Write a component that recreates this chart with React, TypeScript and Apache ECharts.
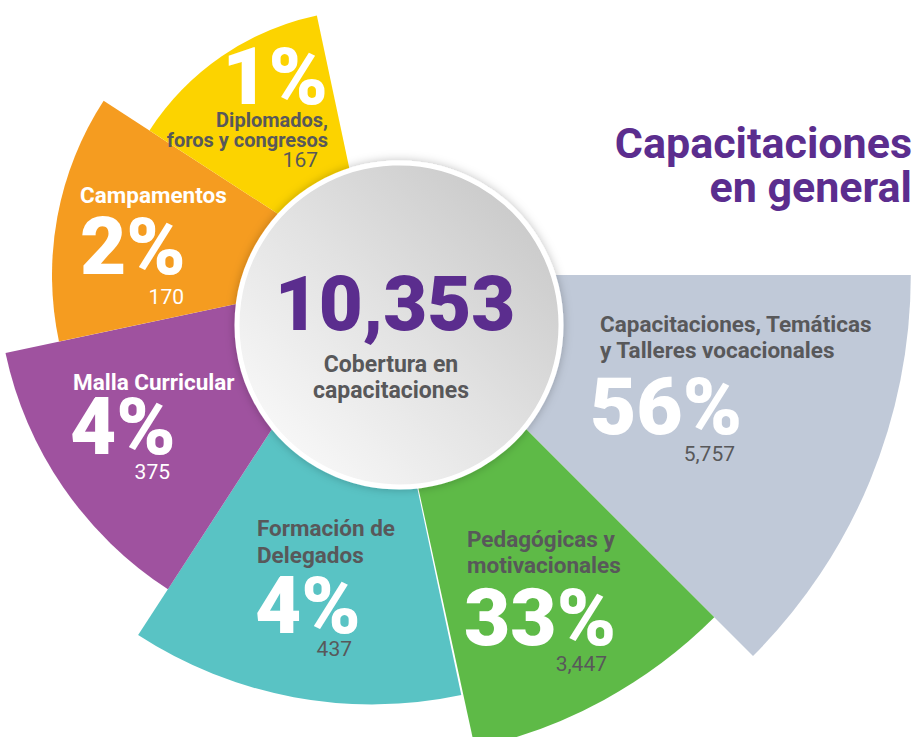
import React, { useEffect, useRef } from "react";
import * as echarts from "echarts";

// ---------- data ----------
const categories = [
  "Capacitaciones, Temáticas\ny Talleres vocacionales",
  "Pedagógicas y\nmotivacionales",
  "Formación de\nDelegados",
  "Malla Curricular",
  "Campamentos",
  "Diplomados,\nforos y congresos",
];
const values = [5757, 3447, 437, 375, 170, 167];
const percents = [56, 33, 4, 4, 2, 1];
const totalValue = 10353;
const titleText = "Capacitaciones\nen general";
const centerCaption = "Cobertura en\ncapacitaciones";

// ---------- styles / layout ----------
const sliceColors = ["#c0c9d8", "#5eba47", "#59c3c4", "#9f529f", "#f59c20", "#fcd300"];
const PURPLE = "#5b2d8e";
const DARK = "#58585a";
const WHITE = "#ffffff";
const FONT = "Roboto, 'Noto Sans', sans-serif";

// three fans sharing one centre: [slice indices, number of angular slots, start angle]
const fans: { group: number[]; slots: number; start: number }[] = [
  { group: [0], slots: 8, start: 0 },
  { group: [1], slots: 11, start: 315 },
  { group: [2, 3, 4, 5], slots: 8, start: 282 },
];
const CENTER = [372, 275];
const R_MIN = -3.85;
const R_MAX = 6;
const R_PX = 538.8;

// label layout per slice
const labelLayout = [
  { nx: 600, ny: 311, na: "left", nc: DARK, nlh: 26, ns: 22.5, px: 590, py: 407, pa: "left", vx: 735, vy: 454, vc: DARK },
  { nx: 467, ny: 526, na: "left", nc: DARK, nlh: 26, ns: 22.5, px: 464, py: 618, pa: "left", vx: 607, vy: 664, vc: DARK },
  { nx: 257, ny: 514, na: "left", nc: DARK, nlh: 27, ns: 22.5, px: 255, py: 606, pa: "left", vx: 352, vy: 649, vc: DARK },
  { nx: 73, ny: 369, na: "left", nc: WHITE, nlh: 26, ns: 22.5, px: 70, py: 427, pa: "left", vx: 170, vy: 472, vc: WHITE },
  { nx: 80, ny: 182, na: "left", nc: WHITE, nlh: 26, ns: 22.5, px: 80, py: 247, pa: "left", vx: 184, vy: 297, vc: WHITE },
  { nx: 328, ny: 110, na: "right", nc: DARK, nlh: 20, ns: 20, px: 328, py: 77, pa: "right", vx: 318, vy: 160, vc: DARK },
];

function fmt(n: number) {
  return n.toLocaleString("en-US");
}

export default function App() {
  const ref = useRef<HTMLDivElement>(null);

  useEffect(() => {
    if (!ref.current) return;
    const chart = echarts.init(ref.current, undefined, { renderer: "svg" });

    const sortedAsc = [...values].sort((a, b) => a - b);
    const ranks = values.map((v) => sortedAsc.indexOf(v) + 1);

    const slotNames = (group: number[], n: number, prefix: string) => {
      const arr: string[] = group.map((i) => categories[i]);
      while (arr.length < n) arr.push(prefix + arr.length);
      return arr;
    };
    const seriesData = (group: number[]) =>
      group.map((i) => ({
        name: categories[i],
        value: ranks[i],
        itemStyle: { color: sliceColors[i] },
      }));

    const texts: any[] = [];
    labelLayout.forEach((L, i) => {
      texts.push({
        type: "text",
        x: L.nx,
        y: L.ny,
        z: 110,
        style: {
          text: categories[i],
          fill: L.nc,
          font: `bold ${L.ns}px ${FONT}`,
          align: L.na,
          verticalAlign: "top",
          lineHeight: L.nlh,
        },
      });
      texts.push({
        type: "text",
        x: L.px,
        y: L.py,
        z: 110,
        style: {
          text: percents[i] + "%",
          fill: WHITE,
          font: `900 80px ${FONT}`,
          align: L.pa,
          verticalAlign: "middle",
          lineHeight: 58,
        },
      });
      texts.push({
        type: "text",
        x: L.vx,
        y: L.vy,
        z: 110,
        style: {
          text: fmt(values[i]),
          fill: L.vc,
          font: `normal 21px ${FONT}`,
          align: "right",
          verticalAlign: "middle",
          lineHeight: 16,
        },
      });
    });

    const option: any = {
      animation: false,
      backgroundColor: "#ffffff",
      polar: fans.map(() => ({ center: CENTER, radius: [0, R_PX] })),
      angleAxis: fans.map((f, k) => ({
        polarIndex: k,
        type: "category",
        data: slotNames(f.group, f.slots, "s" + k + "_"),
        startAngle: f.start,
        clockwise: true,
        show: false,
      })),
      radiusAxis: fans.map((f, k) => ({
        polarIndex: k,
        type: "value",
        min: R_MIN,
        max: R_MAX,
        startValue: R_MIN,
        show: false,
      })),
      series: fans.map((f, k) => ({
        type: "bar",
        coordinateSystem: "polar",
        polarIndex: k,
        barCategoryGap: "0%",
        data: seriesData(f.group),
        z: 2 + k,
      })),
      graphic: [
        {
          type: "circle",
          z: 100,
          shape: { cx: 399, cy: 325, r: 162 },
          style: {
            fill: new echarts.graphic.LinearGradient(1, 0, 0, 1, [
              { offset: 0, color: "#c2c2c2" },
              { offset: 0.5, color: "#e2e2e2" },
              { offset: 1, color: "#ffffff" },
            ]),
            stroke: "#ffffff",
            lineWidth: 5,
            shadowBlur: 10,
            shadowColor: "rgba(0,0,0,0.25)",
          },
        },
        {
          type: "text",
          x: 395,
          y: 304,
          z: 110,
          style: {
            text: fmt(totalValue),
            fill: PURPLE,
            font: `900 76px ${FONT}`,
            align: "center",
            verticalAlign: "middle",
            lineHeight: 56,
          },
        },
        {
          type: "text",
          x: 391,
          y: 351,
          z: 110,
          style: {
            text: centerCaption,
            fill: DARK,
            font: `bold 23px ${FONT}`,
            align: "center",
            verticalAlign: "top",
            lineHeight: 26,
          },
        },
        {
          type: "text",
          x: 912,
          y: 121,
          z: 110,
          style: {
            text: titleText,
            fill: PURPLE,
            font: `bold 43px ${FONT}`,
            align: "right",
            verticalAlign: "top",
            lineHeight: 44,
          },
        },
        ...texts,
      ],
    };

    chart.setOption(option);
    return () => chart.dispose();
  }, []);

  return (
    <div
      ref={ref}
      style={{ position: "absolute", left: 0, top: 0, width: 915, height: 737 }}
    />
  );
}
